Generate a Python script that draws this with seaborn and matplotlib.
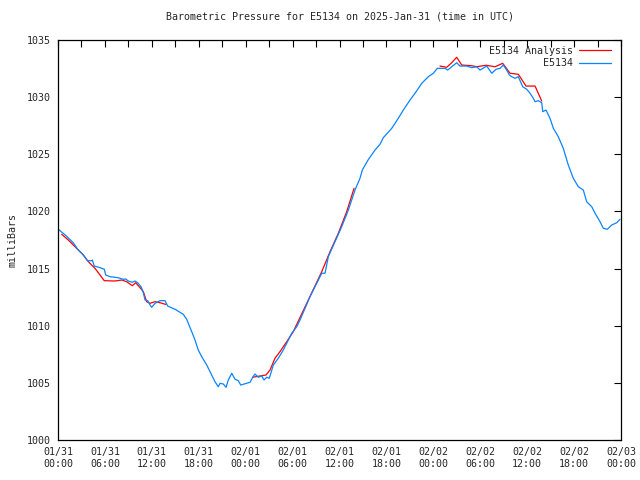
import pandas as pd
import matplotlib.pyplot as plt
import matplotlib.dates as mdates
from matplotlib.lines import Line2D
import seaborn as sns

# Hours since 2025-01-31 00:00 UTC and pressure in mb
obs_hours = [0.00, 1.02, 1.96, 2.52, 3.16, 3.75, 4.31, 4.39, 4.64, 5.37, 5.92, 6.10, 6.65, 7.71,
             8.35, 8.66, 8.99, 9.50, 9.85, 10.19, 10.62, 10.91, 11.13, 11.47, 11.77, 11.98, 12.41,
             13.05, 13.68, 14.03, 14.96, 16.02, 16.46, 16.66, 17.10, 17.52, 17.94, 18.38, 19.02,
             19.66, 20.08, 20.50, 20.72, 21.14, 21.49, 21.78, 22.22, 22.64, 23.06, 23.37, 24.13,
             24.56, 24.90, 25.19, 25.62, 26.05, 26.35, 26.69, 27.02, 27.54, 28.17, 28.81, 29.25,
             29.89, 30.53, 30.95, 32.23, 33.09, 33.73, 34.15, 34.57, 35.43, 36.28, 37.13, 37.98,
             38.62, 38.92, 39.65, 40.54, 41.18, 41.60, 42.68, 43.52, 44.16, 45.02, 45.66, 46.52,
             47.36, 48.00, 48.51, 49.49, 49.84, 50.35, 50.99, 51.41, 52.27, 52.91, 53.55, 53.97,
             54.83, 55.47, 56.02, 56.53, 56.95, 57.38, 57.72, 58.02, 58.45, 58.87, 59.43, 59.94,
             60.37, 60.79, 61.01, 61.43, 61.86, 61.99, 62.41, 62.92, 63.35, 63.98, 64.62, 65.26,
             65.90, 66.54, 67.18, 67.61, 68.26, 68.68, 69.32, 69.74, 70.25, 70.81, 71.45, 71.88]
obs_mb = [1018.46, 1017.88, 1017.26, 1016.69, 1016.25, 1015.69, 1015.69, 1015.75, 1015.22, 1015.08,
          1014.94, 1014.44, 1014.29, 1014.20, 1014.06, 1014.09, 1013.91, 1013.80, 1013.91, 1013.76,
          1013.41, 1012.89, 1012.25, 1012.19, 1011.81, 1011.61, 1011.96, 1012.19, 1012.19, 1011.72,
          1011.44, 1011.00, 1010.56, 1010.21, 1009.48, 1008.75, 1007.87, 1007.29, 1006.56, 1005.69,
          1005.10, 1004.66, 1004.96, 1004.90, 1004.61, 1005.25, 1005.84, 1005.31, 1005.19, 1004.81,
          1004.96, 1005.05, 1005.49, 1005.77, 1005.49, 1005.60, 1005.25, 1005.49, 1005.40, 1006.56,
          1007.15, 1007.87, 1008.46, 1009.34, 1009.91, 1010.50, 1012.54, 1013.71, 1014.59, 1014.59,
          1016.04, 1017.35, 1018.66, 1020.12, 1021.87, 1022.90, 1023.62, 1024.50, 1025.37, 1025.87,
          1026.45, 1027.27, 1028.15, 1028.87, 1029.75, 1030.34, 1031.21, 1031.79, 1032.09, 1032.52,
          1032.52, 1032.37, 1032.66, 1033.01, 1032.72, 1032.72, 1032.58, 1032.66, 1032.37, 1032.72,
          1032.09, 1032.44, 1032.52, 1032.81, 1032.37, 1031.94, 1031.79, 1031.65, 1031.79, 1030.91,
          1030.69, 1030.34, 1029.90, 1029.60, 1029.69, 1029.51, 1028.73, 1028.87, 1028.15, 1027.27,
          1026.54, 1025.52, 1024.06, 1022.90, 1022.16, 1021.87, 1020.85, 1020.41, 1019.84, 1019.10,
          1018.52, 1018.44, 1018.81, 1019.01, 1019.31]

# Analysis comes in three separate stretches
ana1_hours = [0.47, 1.32, 2.39, 3.24, 3.88, 4.73, 5.37, 5.92, 7.29, 8.15, 8.79, 9.50, 9.94,
              10.49, 10.91, 11.34, 11.77, 12.41, 13.05, 13.81]
ana1_mb = [1018.00, 1017.50, 1016.77, 1016.19, 1015.60, 1015.02, 1014.44, 1013.94, 1013.91,
           1014.00, 1013.85, 1013.50, 1013.76, 1013.33, 1012.98, 1012.10, 1011.96, 1012.10,
           1012.01, 1011.86]
ana2_hours = [24.90, 25.83, 26.60, 27.11, 27.75, 28.39, 29.25, 30.09, 30.86, 31.81, 33.73,
              34.79, 35.85, 36.92, 37.86]
ana2_mb = [1005.49, 1005.60, 1005.69, 1006.12, 1007.15, 1007.73, 1008.60, 1009.48, 1010.59,
           1011.96, 1014.73, 1016.48, 1018.09, 1019.98, 1022.02]
ana3_hours = [48.85, 49.71, 50.35, 50.99, 51.63, 52.91, 53.55, 54.74, 55.89, 56.87, 57.81,
              58.87, 59.85, 61.01, 61.86]
ana3_mb = [1032.72, 1032.61, 1033.01, 1033.49, 1032.81, 1032.75, 1032.66, 1032.79, 1032.66,
           1032.96, 1032.09, 1032.00, 1030.97, 1030.97, 1029.66]

start = pd.Timestamp("2025-01-31 00:00")

frames = []
for seg, (h, v) in enumerate([(ana1_hours, ana1_mb), (ana2_hours, ana2_mb), (ana3_hours, ana3_mb)]):
    frames.append(pd.DataFrame({"hours": h, "mb": v, "series": "E5134 Analysis", "seg": seg}))
frames.append(pd.DataFrame({"hours": obs_hours, "mb": obs_mb, "series": "E5134", "seg": 10}))
df = pd.concat(frames, ignore_index=True)
df["time"] = start + pd.to_timedelta(df["hours"], unit="h")

sns.set_style("white")
plt.rcParams["font.family"] = ["DejaVu Sans Mono"]
fs = 7.2

fig = plt.figure(figsize=(6.4, 4.8), dpi=100)
ax = fig.add_axes([58 / 640, 40 / 480, 563 / 640, 400 / 480])

palette = {"E5134 Analysis": "#ff0000", "E5134": "#0a84ff"}
sns.lineplot(data=df, x="time", y="mb", hue="series", units="seg", estimator=None,
             palette=palette, linewidth=0.9, ax=ax, legend=False, sort=False)

ax.set_xlim(start, start + pd.Timedelta(hours=72))
ax.set_ylim(1000, 1035)
ax.set_yticks(range(1000, 1036, 5))
ax.xaxis.set_major_locator(mdates.HourLocator(byhour=[0, 6, 12, 18]))
ax.xaxis.set_minor_locator(mdates.HourLocator(byhour=[3, 9, 15, 21]))
ax.xaxis.set_major_formatter(mdates.DateFormatter("%m/%d\n%H:%M"))

ax.tick_params(axis="both", which="both", direction="in", top=True, right=True,
               labelsize=fs, color="black", width=0.8, pad=5)
ax.tick_params(axis="both", which="major", length=5)
ax.tick_params(axis="x", which="minor", length=5)
for side in ax.spines.values():
    side.set_color("black")
    side.set_linewidth(0.9)

ax.set_xlabel("")
ax.set_ylabel("milliBars", fontsize=fs, labelpad=7)
ax.set_title("Barometric Pressure for E5134 on 2025-Jan-31 (time in UTC)", fontsize=fs, pad=15)

handles = [Line2D([], [], color=palette["E5134 Analysis"], linewidth=0.9),
           Line2D([], [], color=palette["E5134"], linewidth=0.9)]
ax.legend(handles, ["E5134 Analysis", "E5134"], loc="upper right", frameon=False,
          markerfirst=False, fontsize=fs, handlelength=3.2, handletextpad=0.6,
          labelspacing=0.25, borderaxespad=0.2, bbox_to_anchor=(0.993, 1.0))

fig.savefig("out.png", dpi=100, facecolor="white")
